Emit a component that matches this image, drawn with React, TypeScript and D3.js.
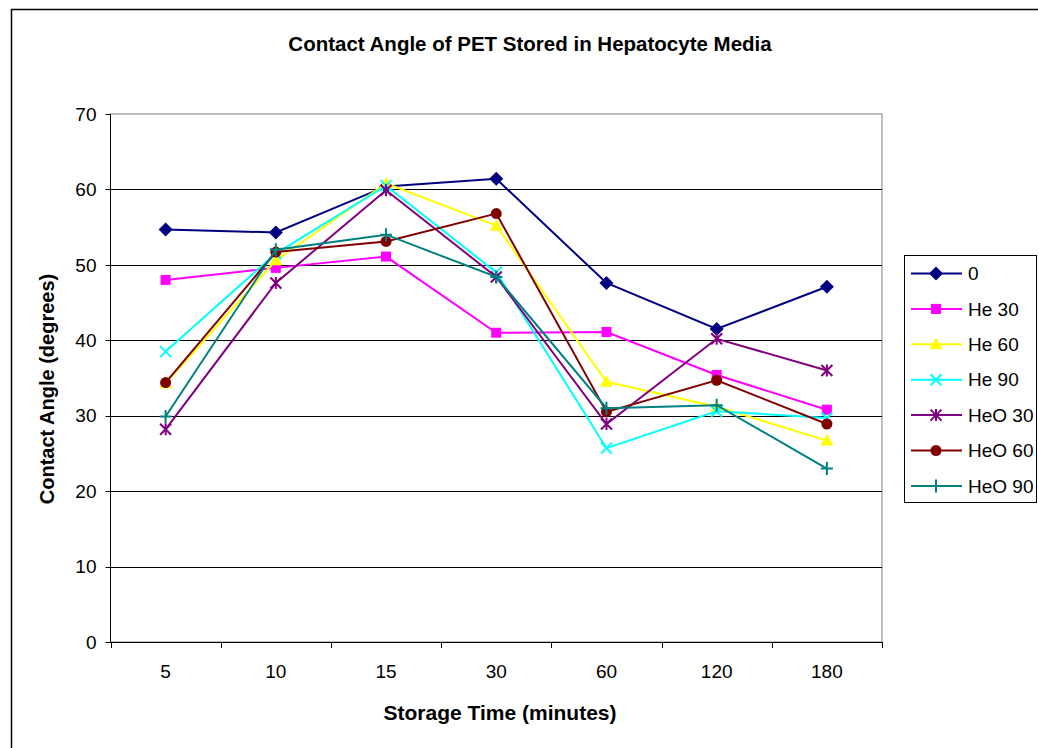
import * as d3 from 'd3'
import React from 'react'

const categories = ['5', '10', '15', '30', '60', '120', '180']
const seriesNames = ['0', 'He 30', 'He 60', 'He 90', 'HeO 30', 'HeO 60', 'HeO 90']
const s0 = [54.7, 54.3, 60.4, 61.4, 47.6, 41.5, 47.1]
const he30 = [48.0, 49.6, 51.1, 41.0, 41.1, 35.4, 30.8]
const he60 = [34.3, 50.6, 60.8, 55.2, 34.5, 31.2, 26.7]
const he90 = [38.5, 51.5, 60.5, 49.0, 25.7, 30.6, 29.7]
const heo30 = [28.2, 47.6, 59.9, 48.4, 28.9, 40.2, 36.0]
const heo60 = [34.4, 51.7, 53.1, 56.8, 30.5, 34.7, 28.9]
const heo90 = [29.9, 52.0, 54.0, 48.4, 31.0, 31.4, 23.0]
const yTicks = [0, 10, 20, 30, 40, 50, 60, 70]

const colors = ['#000080', '#FF00FF', '#FFFF00', '#00FFFF', '#800080', '#800000', '#008080']
const markers = ['diamond', 'square', 'triangle', 'x', 'star', 'circle', 'plus']
const allValues = [s0, he30, he60, he90, heo30, heo60, heo90]

const font = '"Liberation Sans", Arial, sans-serif'

const Marker = ({ kind, x, y, color }: { kind: string, x: number, y: number, color: string }) => {
  switch (kind) {
    case 'diamond':
      return <path d={`M${x},${y - 7}L${x + 7},${y}L${x},${y + 7}L${x - 7},${y}Z`} fill={color} />
    case 'square':
      return <rect x={x - 5} y={y - 5} width={10} height={10} fill={color} />
    case 'triangle':
      return <path d={`M${x},${y - 6.5}L${x + 6.5},${y + 5}L${x - 6.5},${y + 5}Z`} fill={color} />
    case 'x':
      return <path d={`M${x - 5.5},${y - 5.5}L${x + 5.5},${y + 5.5}M${x + 5.5},${y - 5.5}L${x - 5.5},${y + 5.5}`} stroke={color} strokeWidth={2} />
    case 'star':
      return <path d={`M${x - 5.5},${y - 5.5}L${x + 5.5},${y + 5.5}M${x + 5.5},${y - 5.5}L${x - 5.5},${y + 5.5}M${x},${y - 6}L${x},${y + 6}`} stroke={color} strokeWidth={2} />
    case 'circle':
      return <circle cx={x} cy={y} r={5.5} fill={color} />
    default:
      return <path d={`M${x - 6},${y}L${x + 6},${y}M${x},${y - 6.5}L${x},${y + 6.5}`} stroke={color} strokeWidth={2} />
  }
}

export default function App() {
  const
    left = 110.5,
    right = 882,
    top = 114,
    bottom = 642,
    x = d3.scaleBand().domain(categories).range([left, right]),
    y = d3.scaleLinear().domain([0, 70]).range([bottom, top]),
    line = d3.line<number>().x((_, i) => x(categories[i])! + x.bandwidth() / 2).y(d => y(d))

  const legendX = 904, legendY = 255, legendStep = 35.4

  return (
    <svg width={1038} height={748} style={{ position: 'absolute', left: 0, top: 0 }} fontFamily={font}>
      <rect x={0} y={0} width={1038} height={748} fill='#fff' />
      <path d='M11.5,760V9.5H1050' fill='none' stroke='#000' strokeWidth={1.5} />
      <text x={530} y={51} textAnchor='middle' fontSize={20.5} fontWeight='bold'>Contact Angle of PET Stored in Hepatocyte Media</text>
      <rect x={left} y={top} width={right - left} height={bottom - top} fill='none' stroke='#808080' />
      {yTicks.filter(t => t > 0 && t < 70).map(t =>
        <line key={t} x1={left} x2={right} y1={Math.round(y(t)) + 0.5} y2={Math.round(y(t)) + 0.5} stroke='#000' />)}
      <line x1={left} x2={left} y1={top} y2={bottom} stroke='#000' />
      <line x1={left} x2={right} y1={bottom + 0.5} y2={bottom + 0.5} stroke='#000' />
      {yTicks.map(t => (
        <g key={t}>
          <line x1={left - 5} x2={left} y1={Math.round(y(t)) + 0.5} y2={Math.round(y(t)) + 0.5} stroke='#000' />
          <text x={left - 14} y={y(t)} dy='0.35em' textAnchor='end' fontSize={19}>{t}</text>
        </g>
      ))}
      {categories.map((c, i) => (
        <g key={c}>
          <line x1={Math.round(x(c)!) + 0.5} x2={Math.round(x(c)!) + 0.5} y1={bottom} y2={bottom + 6} stroke='#000' />
          {i === categories.length - 1 &&
            <line x1={right + 0.5} x2={right + 0.5} y1={bottom} y2={bottom + 6} stroke='#000' />}
          <text x={x(c)! + x.bandwidth() / 2} y={678} textAnchor='middle' fontSize={19}>{c}</text>
        </g>
      ))}
      <text x={500} y={720} textAnchor='middle' fontSize={21} fontWeight='bold'>Storage Time (minutes)</text>
      <text transform={`translate(54,${(top + bottom) / 2 + 11}) rotate(-90)`} textAnchor='middle' fontSize={20} fontWeight='bold'>Contact Angle (degrees)</text>
      {allValues.map((vals, si) => (
        <g key={si}>
          <path d={line(vals)!} fill='none' stroke={colors[si]} strokeWidth={2} />
          {vals.map((v, i) =>
            <Marker key={i} kind={markers[si]} x={x(categories[i])! + x.bandwidth() / 2} y={y(v)} color={colors[si]} />)}
        </g>
      ))}
      <rect x={legendX + 0.5} y={legendY + 0.5} width={132} height={247} fill='#fff' stroke='#000' />
      {seriesNames.map((n, i) => {
        const ly = legendY + 18.5 + i * legendStep
        return (
          <g key={n}>
            <line x1={911} x2={962} y1={ly} y2={ly} stroke={colors[i]} strokeWidth={2} />
            <Marker kind={markers[i]} x={936} y={ly} color={colors[i]} />
            <text x={968} y={ly} dy='0.35em' fontSize={19}>{n}</text>
          </g>
        )
      })}
    </svg>
  )
}
